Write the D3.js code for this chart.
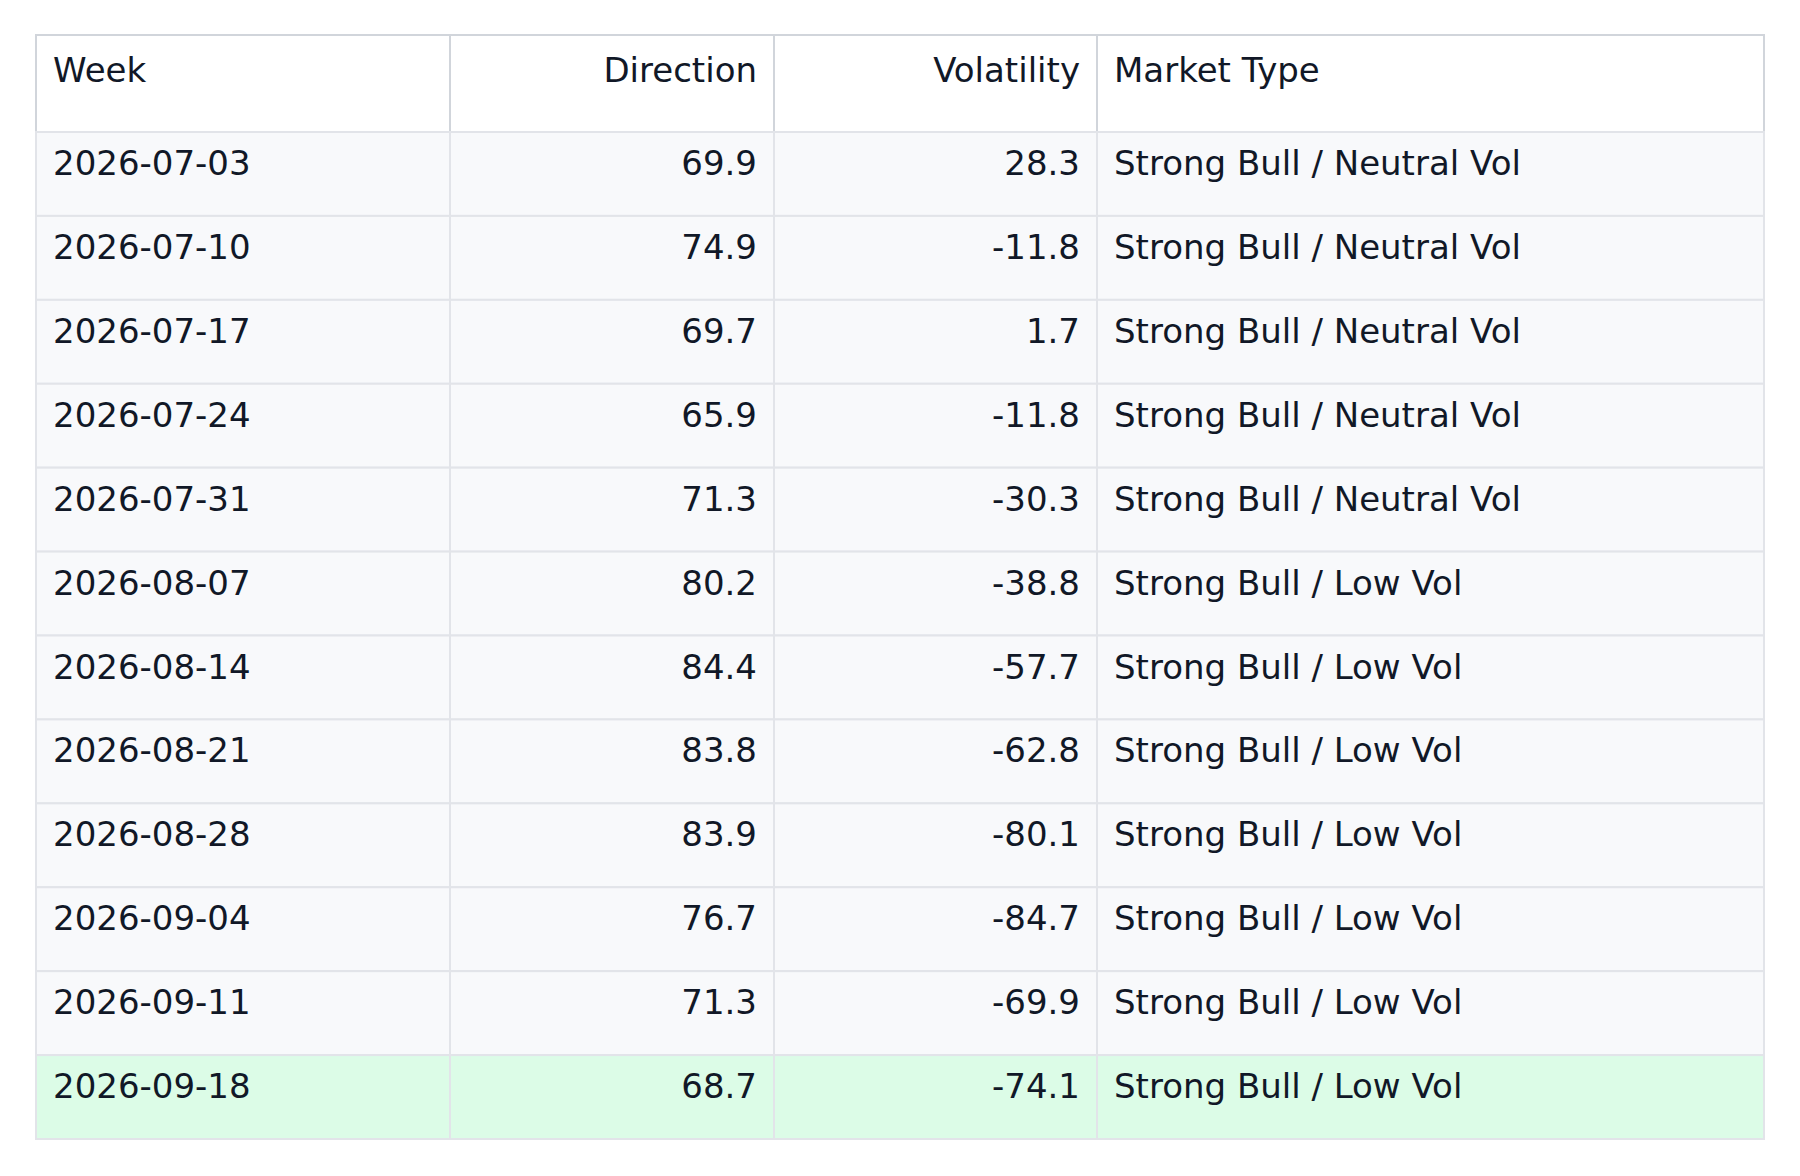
<!DOCTYPE html><html><head><meta charset="utf-8"><script src="https://cdn.jsdelivr.net/npm/d3@7"></script>
<style>body{margin:0;background:#fff}</style></head><body><svg id="c" width="1800" height="1176"></svg>
<script>
const headers=["Week","Direction","Volatility","Market Type"];
const weeks=["2026-07-03","2026-07-10","2026-07-17","2026-07-24","2026-07-31","2026-08-07","2026-08-14","2026-08-21","2026-08-28","2026-09-04","2026-09-11","2026-09-18"];
const direction=[69.9,74.9,69.7,65.9,71.3,80.2,84.4,83.8,83.9,76.7,71.3,68.7];
const volatility=[28.3,-11.8,1.7,-11.8,-30.3,-38.8,-57.7,-62.8,-80.1,-84.7,-69.9,-74.1];
const marketType=["Strong Bull / Neutral Vol","Strong Bull / Neutral Vol","Strong Bull / Neutral Vol","Strong Bull / Neutral Vol","Strong Bull / Neutral Vol","Strong Bull / Low Vol","Strong Bull / Low Vol","Strong Bull / Low Vol","Strong Bull / Low Vol","Strong Bull / Low Vol","Strong Bull / Low Vol","Strong Bull / Low Vol"];
(function(){
const svg=d3.select("#c");
const colEdges=[36,450,774,1097,1764];
const align=["start","end","end","start"];
const tableTop=35,headH=97;
const y=d3.scaleBand().domain(weeks).range([tableTop+headH,1139]).paddingInner(0);
const font="DejaVu Sans, sans-serif",fs=34,pad=17,txt="#111827";
function tx(i){return align[i]==="start"?colEdges[i]+pad:colEdges[i+1]-pad;}
headers.forEach((h,i)=>{
 svg.append("rect").attr("x",colEdges[i]).attr("y",tableTop).attr("width",colEdges[i+1]-colEdges[i]).attr("height",headH).attr("fill","#fff").attr("stroke","#d1d5db").attr("stroke-width",2);
 svg.append("text").attr("x",tx(i)).attr("y",tableTop+47).attr("text-anchor",align[i]).attr("font-family",font).attr("font-size",fs).attr("fill",txt).text(h);
});
weeks.forEach((w,r)=>{
 const vals=[w,direction[r].toFixed(1),volatility[r].toFixed(1),marketType[r]];
 const last=r===weeks.length-1;
 vals.forEach((v,i)=>{
  svg.append("rect").attr("x",colEdges[i]).attr("y",y(w)).attr("width",colEdges[i+1]-colEdges[i]).attr("height",y.bandwidth()).attr("fill",last?"#dcfce7":"#f8f9fb").attr("stroke","#e2e4e9").attr("stroke-width",2);
  svg.append("text").attr("x",tx(i)).attr("y",y(w)+43).attr("text-anchor",align[i]).attr("font-family",font).attr("font-size",fs).attr("fill",txt).text(v);
 });
});
})();
</script></body></html>
